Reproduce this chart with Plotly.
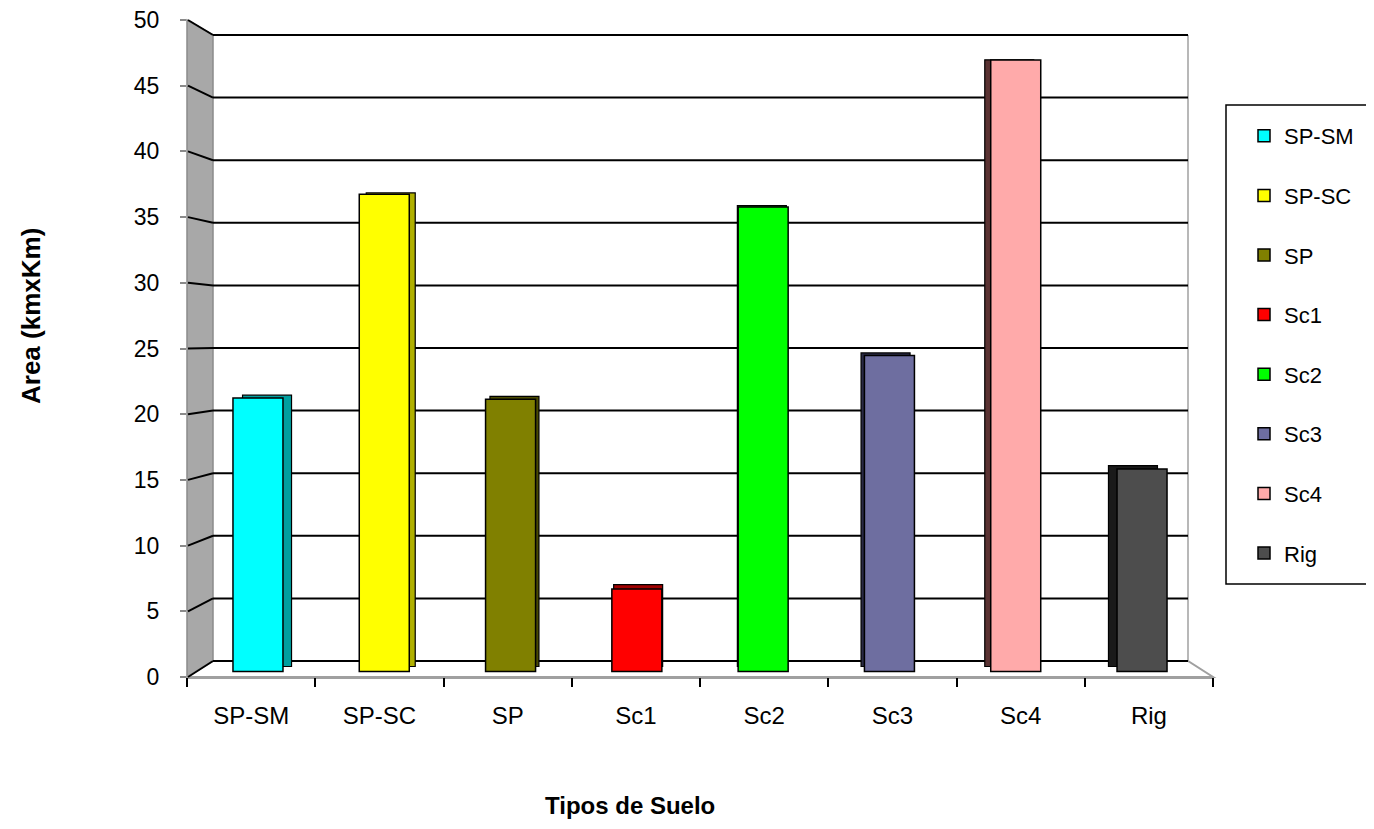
import plotly.graph_objects as go

# ---- data ----
categories = ["SP-SM", "SP-SC", "SP", "Sc1", "Sc2", "Sc3", "Sc4", "Rig"]
values = [21.2, 37.0, 21.1, 6.4, 36.0, 24.5, 47.4, 15.7]
front_colors = ["#00FFFF", "#FFFF00", "#808000", "#FF0000",
                "#00FF00", "#6E6EA0", "#FFAAAA", "#4D4D4D"]
side_colors = ["#00A0A0", "#B0B000", "#4A4A00", "#A00000",
               "#00A000", "#2A2A45", "#5A3232", "#1A1A1A"]
y_ticks = [0, 5, 10, 15, 20, 25, 30, 35, 40, 45, 50]

# ---- geometry (reference pixel coords; page body has an 8px margin) ----
BODY = 8
W, H = 1374 - 2 * BODY, 829 - 2 * BODY
PL, PT, PR, PB = 187, 20, 1213, 677          # plot area in reference pixels
PW, PH = PR - PL, PB - PT
L, T = PL - BODY, PT - BODY
R, B = W - L - PW, H - T - PH
FONT = "Liberation Sans, Arial, sans-serif"


def xp(px):
    return (px - PL) / PW


def yp(py):
    return (PB - py) / PH


FRONT0, FRONT_SCALE = 677, PH / 50.0
BACK0, BACK_SCALE = 661, 626 / 50.0


def front_py(v):
    return FRONT0 - v * FRONT_SCALE


def back_py(v):
    return BACK0 - v * BACK_SCALE


fig = go.Figure()

# invisible trace to carry the main category axis
fig.add_trace(go.Bar(x=categories, y=values, marker=dict(opacity=0),
                     showlegend=False, hoverinfo="skip"))

# back faces (3D depth)
fig.add_trace(go.Bar(x=categories, y=values, xaxis="x2", yaxis="y2",
                     width=0.396,
                     marker=dict(color=side_colors, line=dict(color="black", width=1.2)),
                     showlegend=False, hoverinfo="skip"))

# front faces
for cat, val, col in zip(categories, values, front_colors):
    fig.add_trace(go.Bar(x=[cat], y=[val], xaxis="x3", yaxis="y3", width=0.396,
                         name=cat, legendgroup=cat,
                         marker=dict(color=col, line=dict(color="black", width=1.5))))

shapes = []
# legend box
shapes.append(dict(type="rect", xref="paper", yref="paper",
                   x0=xp(1226), x1=xp(1373), y0=yp(584), y1=yp(105),
                   line=dict(color="black", width=1.5), fillcolor="white", layer="below"))
# left wall
shapes.append(dict(type="path", xref="paper", yref="paper",
                   path=f"M{xp(187)},{yp(20)} L{xp(213)},{yp(35)} L{xp(213)},{yp(661)} L{xp(187)},{yp(677)} Z",
                   fillcolor="#A8A8A8", line=dict(color="#8A8A8A", width=1.5), layer="below"))
# floor
shapes.append(dict(type="path", xref="paper", yref="paper",
                   path=f"M{xp(187)},{yp(677)} L{xp(1213)},{yp(677)} L{xp(1188)},{yp(661)} L{xp(213)},{yp(661)} Z",
                   fillcolor="white", line=dict(color="#A0A0A0", width=2), layer="below"))
# back wall right edge
shapes.append(dict(type="line", xref="paper", yref="paper",
                   x0=xp(1188), x1=xp(1188), y0=yp(35), y1=yp(661),
                   line=dict(color="#A0A0A0", width=1.5), layer="below"))
# front floor edge
shapes.append(dict(type="line", xref="paper", yref="paper",
                   x0=xp(187), x1=xp(1213), y0=yp(677.5), y1=yp(677.5),
                   line=dict(color="#A0A0A0", width=3), layer="below"))
# gridlines on back wall and connectors on left wall
for v in y_ticks:
    shapes.append(dict(type="line", xref="paper", yref="paper",
                       x0=xp(213), x1=xp(1188), y0=yp(back_py(v)), y1=yp(back_py(v)),
                       line=dict(color="black", width=2), layer="below"))
    shapes.append(dict(type="line", xref="paper", yref="paper",
                       x0=xp(188), x1=xp(213), y0=yp(front_py(v)), y1=yp(back_py(v)),
                       line=dict(color="black", width=2), layer="below"))

annotations = [
    dict(text="<b>Tipos de Suelo</b>", xref="paper", yref="paper",
         x=xp(630), y=yp(820), xanchor="center", yanchor="bottom", showarrow=False,
         borderpad=0, font=dict(family=FONT, size=24, color="black")),
    dict(text="<b>Area (kmxKm)</b>", xref="paper", yref="paper",
         x=xp(31), y=yp(316), xanchor="center", yanchor="middle",
         showarrow=False, textangle=-90,
         font=dict(family=FONT, size=26, color="black")),
]

fig.update_layout(
    width=W, height=H,
    margin=dict(l=L, r=R, t=T, b=B, pad=0, autoexpand=False),
    paper_bgcolor="white", plot_bgcolor="rgba(0,0,0,0)",
    barmode="overlay",
    font=dict(family=FONT, size=23, color="black"),
    shapes=shapes,
    annotations=annotations,
    xaxis=dict(type="category", categoryorder="array", categoryarray=categories,
               range=[-0.5, 7.5], showgrid=False, zeroline=False, showline=False,
               ticks="outside", tickson="boundaries", ticklen=9, tickwidth=1.5,
               tickcolor="black", ticklabelstandoff=22, automargin=False,
               tickfont=dict(family=FONT, size=24, color="black"), fixedrange=True),
    yaxis=dict(range=[0, 50], tickvals=y_ticks, showgrid=False, zeroline=False,
               showline=False, ticks="outside", ticklen=6, tickwidth=2,
               tickcolor="#8A8A8A", ticklabelstandoff=16, ticklabeloverflow="allow",
               automargin=False,
               tickfont=dict(family=FONT, size=23, color="black"), fixedrange=True),
    xaxis2=dict(type="category", categoryorder="array", categoryarray=categories,
                overlaying="x", anchor="y2", range=[-0.647, 7.647], visible=False),
    yaxis2=dict(overlaying="y", anchor="x2", range=[-0.820, 50.51], visible=False),
    xaxis3=dict(type="category", categoryorder="array", categoryarray=categories,
                overlaying="x", anchor="y3", range=[-0.562, 7.562], visible=False),
    yaxis3=dict(overlaying="y", anchor="x3", range=[-0.426, 50.50], visible=False),
    legend=dict(x=xp(1244), y=yp(115), xanchor="left", yanchor="top",
                bgcolor="rgba(0,0,0,0)", borderwidth=0, traceorder="grouped",
                tracegroupgap=28, font=dict(family=FONT, size=22, color="black")),
)

fig.write_html("out.html")
